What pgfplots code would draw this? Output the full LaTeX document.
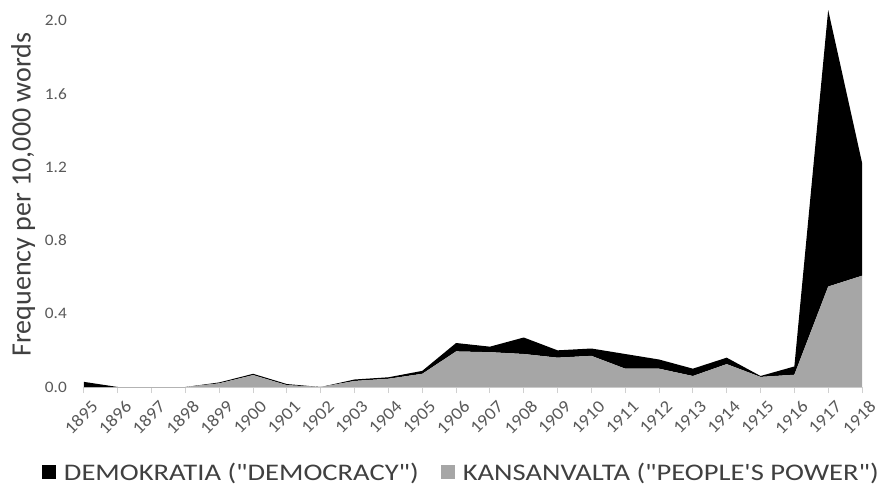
\documentclass[border=0pt]{standalone}
\usepackage{pgfplots}
\usepackage{pgfplotstable}
\pgfplotsset{compat=1.18}
\usepackage{fontspec}
\setmainfont{Carlito}
\newfontfamily\legendfont[FakeStretch=1.2]{Carlito}
\newfontfamily\tickfont[FakeStretch=1.08]{Carlito}
\definecolor{areagray}{HTML}{A6A6A6}
\definecolor{axisgray}{HTML}{D0D0D0}
\definecolor{textgray}{HTML}{595959}
\definecolor{labelgray}{HTML}{404040}
\pgfplotstableread{
year kan dem
1895 0 0.028
1896 0 0
1897 0 0
1898 0 0
1899 0.02 0.005
1900 0.065 0.007
1901 0.01 0.006
1902 0 0
1903 0.033 0.008
1904 0.045 0.008
1905 0.072 0.016
1906 0.194 0.046
1907 0.19 0.03
1908 0.18 0.09
1909 0.16 0.04
1910 0.17 0.04
1911 0.10 0.08
1912 0.10 0.05
1913 0.06 0.04
1914 0.125 0.035
1915 0.055 0.005
1916 0.067 0.045
1917 0.548 1.508
1918 0.607 0.617
}\data
\begin{document}
\begin{tikzpicture}
\useasboundingbox (-84pt,-98pt) rectangle (798pt,387pt);
\begin{axis}[
  scale only axis,
  width=778pt, height=385pt,
  xmin=1895, xmax=1918,
  ymin=0, ymax=2.1,
  stack plots=y,
  axis lines*=left,
  x axis line style={color=axisgray, line width=1pt},
  y axis line style={draw=none},
  xtick={1895,1896,...,1918},
  ytick={0,0.4,0.8,1.2,1.6,2.0},
  tick align=outside,
  major tick length=6pt,
  xtick style={color=axisgray, line width=1pt},
  ytick style={draw=none},
  /pgf/number format/assume math mode=true,
  xticklabel style={/pgf/number format/1000 sep=, rotate=45, anchor=north east, inner sep=0pt, font=\tickfont\fontsize{17.5}{18}\selectfont, text=textgray, xshift=0pt, yshift=-9pt},
  yticklabel style={/pgf/number format/.cd, fixed, fixed zerofill, precision=1, /tikz/.cd, font=\tickfont\fontsize{16}{17}\selectfont, text=textgray, anchor=east, inner sep=0pt, xshift=-11pt},
  ylabel={Frequency per 10,000 words},
  ylabel style={at={(axis description cs:-0.0938,0.5)}, anchor=north, inner sep=0pt, font=\fontsize{28}{30}\selectfont, text=labelgray},
  legend columns=2,
  reverse legend,
  legend style={at={(axis description cs:0.485,-0.221)}, anchor=center, draw=none, fill=none, inner sep=0pt, font=\legendfont\fontsize{23.8}{25}\selectfont, text=labelgray, /tikz/every even column/.append style={column sep=20pt}, /tikz/every odd column/.append style={column sep=6pt}},
  legend image code/.code={\fill[#1] (0pt,-7pt) rectangle (14pt,7pt);},
  clip=false,
]
\addplot[fill=areagray, draw=none] table[x=year, y=kan] {\data} \closedcycle;
\addlegendentry{KANSANVALTA ("PEOPLE'S POWER")}
\addplot[fill=black, draw=none] table[x=year, y=dem] {\data} \closedcycle;
\addlegendentry{DEMOKRATIA ("DEMOCRACY")}
\end{axis}
\end{tikzpicture}
\end{document}
